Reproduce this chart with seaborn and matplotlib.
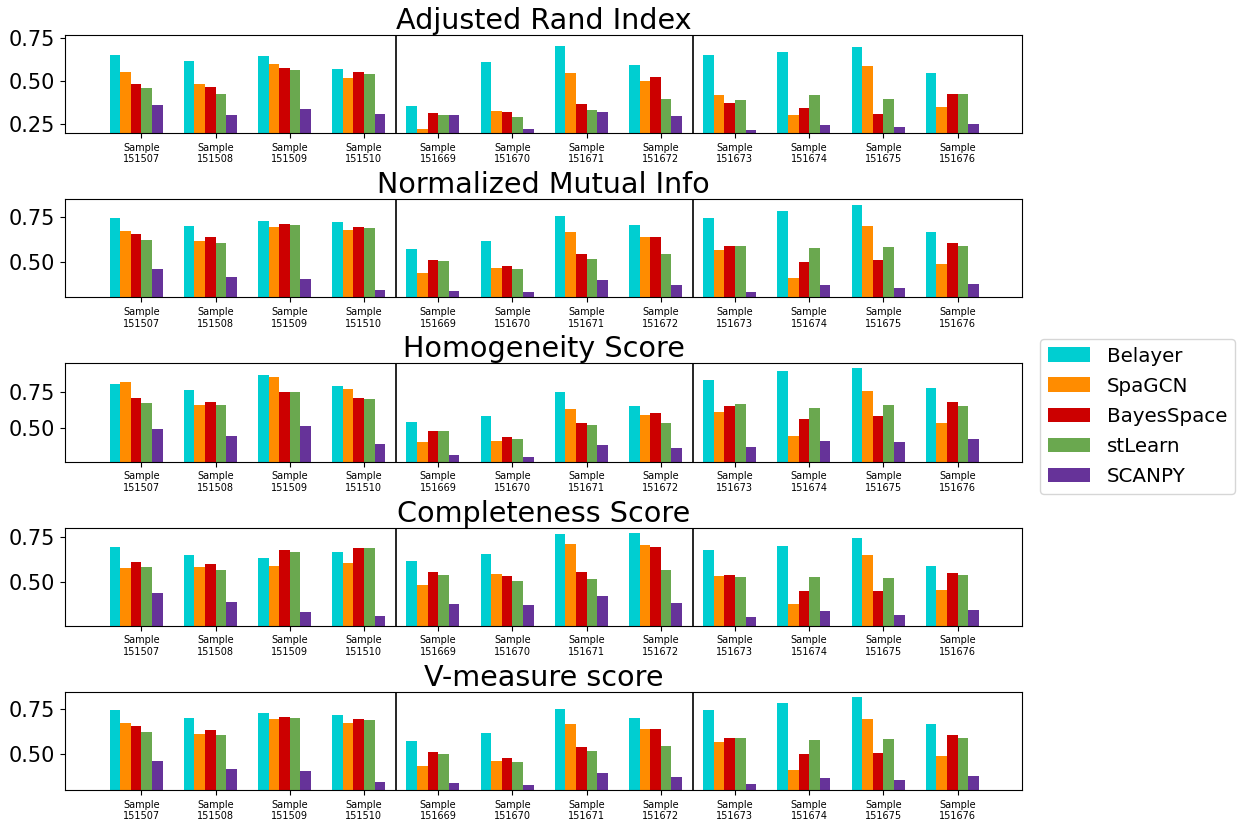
import numpy as np
import pandas as pd
import matplotlib
matplotlib.use("Agg")
import matplotlib.pyplot as plt
import seaborn as sns
from matplotlib.ticker import MultipleLocator

# sample ids and methods
samples = ["151507", "151508", "151509", "151510", "151669", "151670",
           "151671", "151672", "151673", "151674", "151675", "151676"]
methods = ["Belayer", "SpaGCN", "BayesSpace", "stLearn", "SCANPY"]
colors = ["#00CED1", "#FF8C00", "#CC0000", "#6AA84F", "#663399"]

# scores per method (one value per sample)
ari = {
    "Belayer":    [0.653, 0.618, 0.647, 0.571, 0.355, 0.612, 0.705, 0.594, 0.653, 0.670, 0.699, 0.548],
    "SpaGCN":     [0.553, 0.483, 0.600, 0.518, 0.223, 0.326, 0.548, 0.501, 0.419, 0.303, 0.589, 0.349],
    "BayesSpace": [0.483, 0.466, 0.577, 0.553, 0.314, 0.320, 0.367, 0.524, 0.373, 0.343, 0.308, 0.425],
    "stLearn":    [0.460, 0.425, 0.565, 0.542, 0.303, 0.291, 0.332, 0.396, 0.390, 0.419, 0.396, 0.425],
    "SCANPY":     [0.361, 0.303, 0.338, 0.308, 0.303, 0.221, 0.320, 0.297, 0.215, 0.244, 0.232, 0.250],
}
nmi = {
    "Belayer":    [0.746, 0.701, 0.729, 0.724, 0.571, 0.617, 0.758, 0.707, 0.746, 0.786, 0.820, 0.667],
    "SpaGCN":     [0.673, 0.617, 0.695, 0.679, 0.436, 0.464, 0.667, 0.639, 0.566, 0.408, 0.701, 0.487],
    "BayesSpace": [0.656, 0.639, 0.712, 0.695, 0.509, 0.476, 0.543, 0.639, 0.588, 0.498, 0.509, 0.605],
    "stLearn":    [0.622, 0.605, 0.707, 0.690, 0.504, 0.459, 0.515, 0.543, 0.588, 0.577, 0.583, 0.588],
    "SCANPY":     [0.459, 0.414, 0.402, 0.340, 0.335, 0.329, 0.397, 0.368, 0.329, 0.368, 0.352, 0.374],
}
homogeneity = {
    "Belayer":    [0.804, 0.762, 0.867, 0.790, 0.537, 0.579, 0.748, 0.650, 0.832, 0.895, 0.916, 0.776],
    "SpaGCN":     [0.818, 0.657, 0.853, 0.769, 0.397, 0.404, 0.629, 0.586, 0.607, 0.439, 0.755, 0.530],
    "BayesSpace": [0.706, 0.678, 0.748, 0.706, 0.474, 0.432, 0.530, 0.600, 0.650, 0.558, 0.579, 0.678],
    "stLearn":    [0.671, 0.657, 0.748, 0.699, 0.474, 0.418, 0.516, 0.530, 0.664, 0.636, 0.657, 0.650],
    "SCANPY":     [0.488, 0.439, 0.509, 0.383, 0.306, 0.292, 0.376, 0.355, 0.362, 0.404, 0.397, 0.418],
}
completeness = {
    "Belayer":    [0.694, 0.650, 0.633, 0.667, 0.617, 0.656, 0.767, 0.772, 0.678, 0.700, 0.744, 0.589],
    "SpaGCN":     [0.578, 0.583, 0.589, 0.606, 0.483, 0.544, 0.711, 0.706, 0.533, 0.378, 0.650, 0.456],
    "BayesSpace": [0.611, 0.600, 0.678, 0.689, 0.556, 0.533, 0.556, 0.694, 0.539, 0.450, 0.450, 0.550],
    "stLearn":    [0.583, 0.567, 0.667, 0.689, 0.539, 0.506, 0.517, 0.567, 0.528, 0.528, 0.522, 0.539],
    "SCANPY":     [0.439, 0.389, 0.333, 0.311, 0.378, 0.372, 0.422, 0.383, 0.306, 0.339, 0.317, 0.344],
}
vmeasure = {
    "Belayer":    [0.746, 0.701, 0.729, 0.718, 0.573, 0.618, 0.752, 0.701, 0.746, 0.785, 0.819, 0.668],
    "SpaGCN":     [0.674, 0.612, 0.696, 0.674, 0.433, 0.461, 0.668, 0.640, 0.567, 0.410, 0.696, 0.489],
    "BayesSpace": [0.657, 0.634, 0.707, 0.696, 0.511, 0.478, 0.539, 0.640, 0.590, 0.500, 0.506, 0.606],
    "stLearn":    [0.623, 0.606, 0.701, 0.690, 0.500, 0.455, 0.517, 0.545, 0.590, 0.578, 0.584, 0.590],
    "SCANPY":     [0.461, 0.416, 0.405, 0.343, 0.338, 0.326, 0.394, 0.371, 0.332, 0.366, 0.354, 0.377],
}

titles = ["Adjusted Rand Index", "Normalized Mutual Info", "Homogeneity Score",
          "Completeness Score", "V-measure score"]
scores = [ari, nmi, homogeneity, completeness, vmeasure]
ylims = [(0.196, 0.769), (0.299, 0.853), (0.262, 0.949), (0.257, 0.804), (0.298, 0.849)]

tick_labels = ["Sample\n" + s for s in samples]
bar_w = 1 / 7

fig, axes = plt.subplots(5, 1, figsize=(12.44, 8.21), dpi=100)
fig.subplots_adjust(left=0.0523, right=0.8215, top=0.9574, bottom=0.0378, hspace=0.673)

for i, (ax, title, score) in enumerate(zip(axes, titles, scores)):
    # long format table for seaborn
    rows = []
    for m in methods:
        for s, v in zip(samples, score[m]):
            rows.append({"Sample": s, "Method": m, "Score": v})
    df = pd.DataFrame(rows)

    sns.barplot(data=df, x="Sample", y="Score", hue="Method", order=samples,
                hue_order=methods, palette=colors, width=5 * bar_w,
                saturation=1, ax=ax, legend=(i == 0))

    ax.axvline(3.5, color="black", lw=1.2)
    ax.axvline(7.5, color="black", lw=1.2)

    ax.set_xlim(-0.957, 11.94)
    ax.set_ylim(*ylims[i])
    ax.yaxis.set_major_locator(MultipleLocator(0.25))
    ax.set_xticks(np.arange(len(samples)) + bar_w / 2)
    ax.set_xticklabels(tick_labels, fontsize=7)
    ax.tick_params(axis="y", labelsize=15)
    ax.set_xlabel("")
    ax.set_ylabel("")
    ax.set_title(title, fontsize=20.6, pad=4)

handles, labels = axes[0].get_legend_handles_labels()
axes[0].get_legend().remove()
fig.legend(handles, labels, loc="center left", bbox_to_anchor=(0.836, 0.493),
           borderaxespad=0, fontsize=14.3, handlelength=2.1, handleheight=0.75,
           labelspacing=0.56, handletextpad=0.85, borderpad=0.4)

fig.savefig("out.png", dpi=100)
